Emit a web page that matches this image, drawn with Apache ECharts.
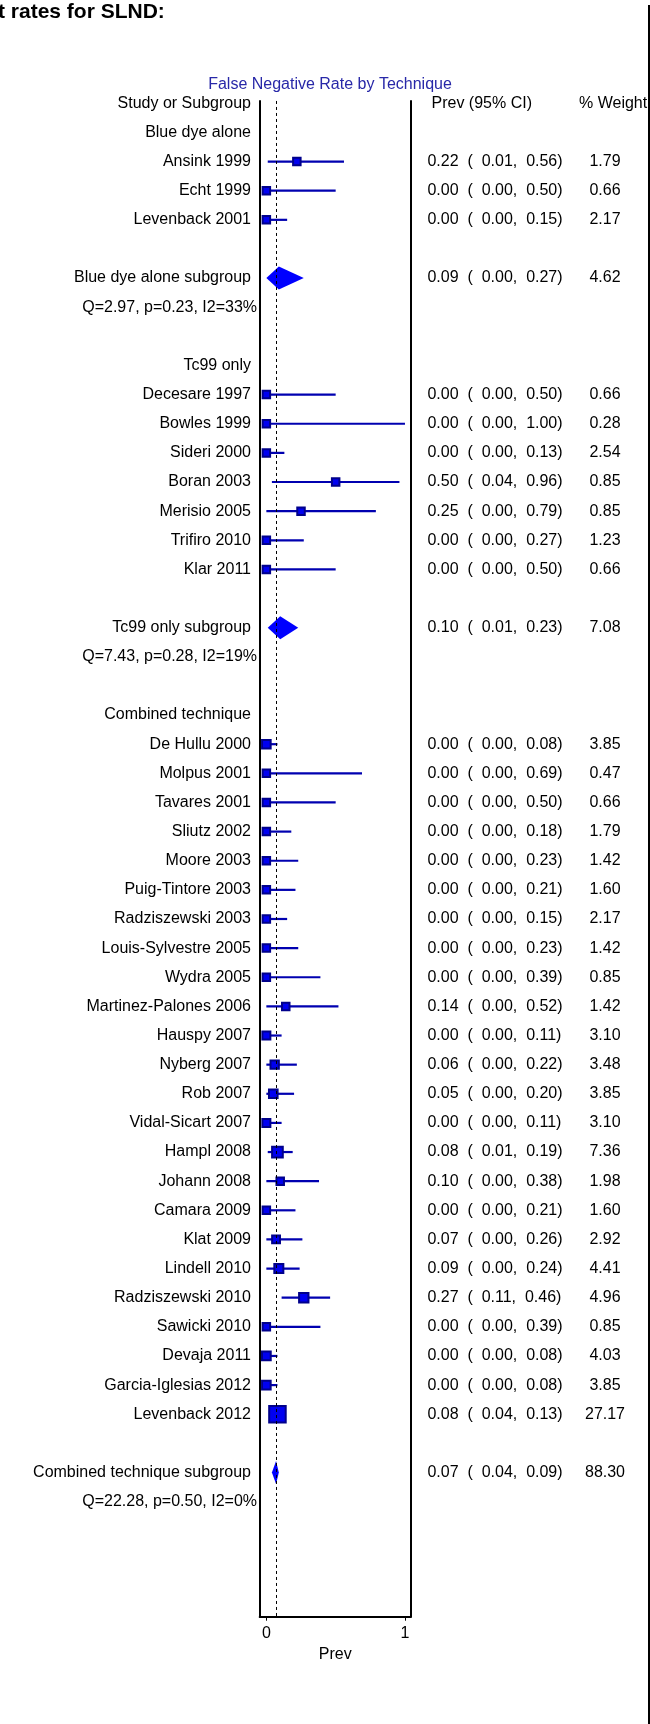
<!DOCTYPE html>
<html>
<head>
<meta charset="utf-8">
<script src="https://cdn.jsdelivr.net/npm/echarts@6/dist/echarts.min.js"></script>
<style>
html,body{margin:0;padding:0;background:#fff;}
#chart{width:650px;height:1724px;}
</style>
</head>
<body>
<div id="chart"></div>
<script>
// ---- data ----
const groupNames = ["Blue dye alone", "Tc99 only", "Combined technique"];

const blueStudies = ["Ansink 1999", "Echt 1999", "Levenback 2001"];
const bluePrev    = [0.22, 0.00, 0.00];
const blueLower   = [0.01, 0.00, 0.00];
const blueUpper   = [0.56, 0.50, 0.15];
const blueWeight  = [1.79, 0.66, 2.17];

const tcStudies = ["Decesare 1997", "Bowles 1999", "Sideri 2000", "Boran 2003", "Merisio 2005", "Trifiro 2010", "Klar 2011"];
const tcPrev    = [0.00, 0.00, 0.00, 0.50, 0.25, 0.00, 0.00];
const tcLower   = [0.00, 0.00, 0.00, 0.04, 0.00, 0.00, 0.00];
const tcUpper   = [0.50, 1.00, 0.13, 0.96, 0.79, 0.27, 0.50];
const tcWeight  = [0.66, 0.28, 2.54, 0.85, 0.85, 1.23, 0.66];

const combStudies = ["De Hullu 2000", "Molpus 2001", "Tavares 2001", "Sliutz 2002", "Moore 2003", "Puig-Tintore 2003",
  "Radziszewski 2003", "Louis-Sylvestre 2005", "Wydra 2005", "Martinez-Palones 2006", "Hauspy 2007", "Nyberg 2007",
  "Rob 2007", "Vidal-Sicart 2007", "Hampl 2008", "Johann 2008", "Camara 2009", "Klat 2009", "Lindell 2010",
  "Radziszewski 2010", "Sawicki 2010", "Devaja 2011", "Garcia-Iglesias 2012", "Levenback 2012"];
const combPrev   = [0.00, 0.00, 0.00, 0.00, 0.00, 0.00, 0.00, 0.00, 0.00, 0.14, 0.00, 0.06, 0.05, 0.00, 0.08, 0.10, 0.00, 0.07, 0.09, 0.27, 0.00, 0.00, 0.00, 0.08];
const combLower  = [0.00, 0.00, 0.00, 0.00, 0.00, 0.00, 0.00, 0.00, 0.00, 0.00, 0.00, 0.00, 0.00, 0.00, 0.01, 0.00, 0.00, 0.00, 0.00, 0.11, 0.00, 0.00, 0.00, 0.04];
const combUpper  = [0.08, 0.69, 0.50, 0.18, 0.23, 0.21, 0.15, 0.23, 0.39, 0.52, 0.11, 0.22, 0.20, 0.11, 0.19, 0.38, 0.21, 0.26, 0.24, 0.46, 0.39, 0.08, 0.08, 0.13];
const combWeight = [3.85, 0.47, 0.66, 1.79, 1.42, 1.60, 2.17, 1.42, 0.85, 1.42, 3.10, 3.48, 3.85, 3.10, 7.36, 1.98, 1.60, 2.92, 4.41, 4.96, 0.85, 4.03, 3.85, 27.17];

const subgroupLabels = ["Blue dye alone subgroup", "Tc99 only subgroup", "Combined technique subgroup"];
const subgroupPrev   = [0.09, 0.10, 0.07];
const subgroupLower  = [0.00, 0.01, 0.04];
const subgroupUpper  = [0.27, 0.23, 0.09];
const subgroupWeight = [4.62, 7.08, 88.30];
const heterogeneity  = ["Q=2.97, p=0.23, I2=33%", "Q=7.43, p=0.28, I2=19%", "Q=22.28, p=0.50, I2=0%"];

const overallPrev = 0.075;
const xTicks = [0, 1];

// ---- build rows ----
const groups = [
  {s: blueStudies, p: bluePrev, l: blueLower, u: blueUpper, w: blueWeight},
  {s: tcStudies, p: tcPrev, l: tcLower, u: tcUpper, w: tcWeight},
  {s: combStudies, p: combPrev, l: combLower, u: combUpper, w: combWeight}
];
const rows = [];
let r = 1;
groups.forEach((g, gi) => {
  rows.push({row: r++, kind: 'head', label: groupNames[gi]});
  g.s.forEach((name, i) => {
    rows.push({row: r++, kind: 'study', label: name, est: g.p[i], lo: g.l[i], hi: g.u[i], w: g.w[i]});
  });
  r++;
  rows.push({row: r++, kind: 'sub', label: subgroupLabels[gi], est: subgroupPrev[gi], lo: subgroupLower[gi], hi: subgroupUpper[gi], w: subgroupWeight[gi]});
  rows.push({row: r++, kind: 'q', label: heterogeneity[gi]});
  r++;
});

const FONT = '16px "Liberation Sans", Arial, sans-serif';
const LABEL_RIGHT = 251, Q_RIGHT = 257, PREV_X = 427.4, WEIGHT_CX = 605;

function txt(text, x, y, align, fill) {
  return {type: 'text', style: {text: text, x: x, y: y, align: align, verticalAlign: 'middle',
    font: FONT, fill: fill || '#000'}};
}

function renderItem(params, api) {
  const d = rows[params.dataIndex];
  const y = api.coord([0, d.row])[1];
  const ch = [];
  ch.push(txt(d.label, d.kind === 'q' ? Q_RIGHT : LABEL_RIGHT, y, 'right'));
  if (d.kind === 'study' || d.kind === 'sub') {
    const xl = api.coord([d.lo, d.row])[0];
    const xh = api.coord([d.hi, d.row])[0];
    const xe = api.coord([d.est, d.row])[0];
    if (d.kind === 'study') {
      ch.push({type: 'line', shape: {x1: xl, y1: y, x2: xh, y2: y}, style: {stroke: '#0000b0', lineWidth: 2.2}});
      const s = Math.max(7.5, 5.5 * Math.cbrt(d.w));
      ch.push({type: 'rect', shape: {x: xe - s / 2, y: y - s / 2, width: s, height: s},
        style: {fill: '#0000f0', stroke: '#00008b', lineWidth: 2}});
    } else {
      const h = 11.5;
      ch.push({type: 'polygon', shape: {points: [[xl, y], [xe, y - h], [xh, y], [xe, y + h]]},
        style: {fill: '#0000ff'}});
    }
    const t = d.est.toFixed(2) + '  (  ' + d.lo.toFixed(2) + ',  ' + d.hi.toFixed(2) + ')';
    ch.push(txt(t, PREV_X, y, 'left'));
    ch.push(txt(d.w.toFixed(2), WEIGHT_CX, y, 'center'));
  }
  return {type: 'group', children: ch};
}

const chart = echarts.init(document.getElementById('chart'), null, {renderer: 'canvas'});
const axisLineStyle = {color: '#000', width: 2};
chart.setOption({
  animation: false,
  backgroundColor: '#fff',
  grid: {left: 259.7, right: 239.2, top: 100.97, bottom: 107.3, containLabel: false},
  xAxis: {
    type: 'value', min: -0.048, max: 1.042, position: 'bottom',
    axisLine: {show: true, onZero: false, lineStyle: axisLineStyle},
    axisTick: {show: true, length: 4, customValues: xTicks, lineStyle: {color: '#000', width: 1}},
    axisLabel: {show: true, customValues: xTicks, margin: 9, color: '#000', fontSize: 16,
      fontFamily: '"Liberation Sans", Arial, sans-serif', formatter: v => String(v)},
    splitLine: {show: false},
    name: 'Prev', nameLocation: 'middle', nameGap: 28,
    nameTextStyle: {color: '#000', fontSize: 16, fontFamily: '"Liberation Sans", Arial, sans-serif'}
  },
  yAxis: [
    {type: 'value', inverse: true, min: -0.08, max: 51.95, position: 'left',
      axisLine: {show: true, onZero: false, lineStyle: axisLineStyle}, axisTick: {show: false}, axisLabel: {show: false}, splitLine: {show: false}},
    {type: 'value', inverse: true, min: -0.08, max: 51.95, position: 'right',
      axisLine: {show: true, onZero: false, lineStyle: axisLineStyle}, axisTick: {show: false}, axisLabel: {show: false}, splitLine: {show: false}}
  ],
  graphic: [
    {type: 'text', left: -2, top: 2, style: {text: 't rates for SLND:', font: 'bold 21px "Liberation Sans", Arial, sans-serif', fill: '#000'}},
    {type: 'rect', shape: {x: 648, y: 5, width: 2, height: 1719}, style: {fill: '#000'}},
    {type: 'text', style: {text: 'False Negative Rate by Technique', x: 330, y: 84.7, align: 'center', verticalAlign: 'middle', font: FONT, fill: '#2828a8'}},
    {type: 'text', style: {text: 'Study or Subgroup', x: LABEL_RIGHT, y: 103.3, align: 'right', verticalAlign: 'middle', font: FONT, fill: '#000'}},
    {type: 'text', style: {text: 'Prev (95% CI)', x: 431.5, y: 103.3, align: 'left', verticalAlign: 'middle', font: FONT, fill: '#000'}},
    {type: 'text', style: {text: '% Weight', x: 579, y: 103.3, align: 'left', verticalAlign: 'middle', font: FONT, fill: '#000'}}
  ],
  series: [
    {type: 'custom', renderItem: renderItem, clip: false, z: 2,
      encode: {x: 1, y: 0},
      data: rows.map(d => [d.row, d.est === undefined ? 0 : d.est])},
    {type: 'line', data: [], z: 10, silent: true,
      markLine: {silent: true, symbol: 'none', label: {show: false}, animation: false,
        lineStyle: {type: [3, 3], color: '#000', width: 1},
        data: [{xAxis: overallPrev}]}}
  ]
});
</script>
</body>
</html>
